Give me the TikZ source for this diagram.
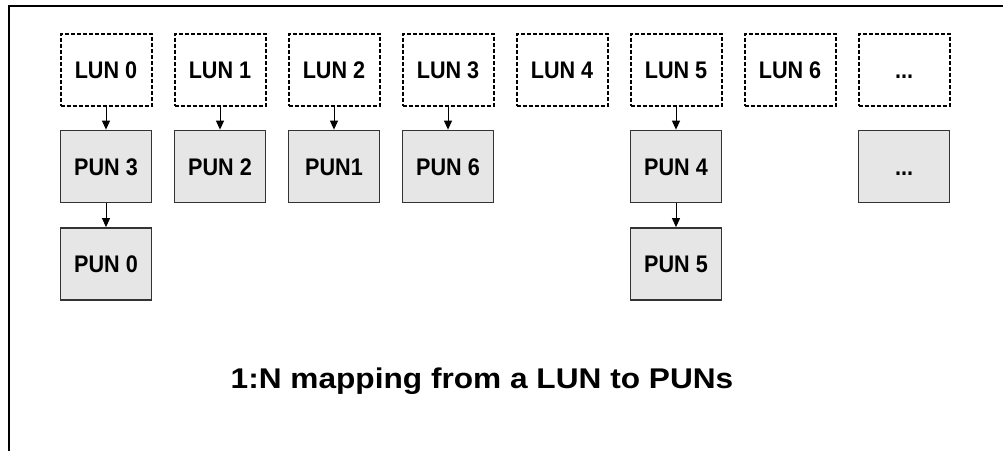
\documentclass[tikz,border=0pt]{standalone}
\usepackage{fontspec}
\setmainfont{Liberation Sans}
\usetikzlibrary{arrows.meta}
\definecolor{punfill}{HTML}{E6E6E6}
\definecolor{punedge}{HTML}{333333}
\newcommand{\boxtext}[1]{\scalebox{0.9}[1]{#1}}
\begin{document}
\begin{tikzpicture}[x=1pt,y=-1pt,
  unitbox/.style={minimum width=91pt, minimum height=72pt, inner sep=0pt,
    text height=17pt, text depth=0pt, font=\fontsize{24}{26}\selectfont\bfseries},
  lunbox/.style={unitbox, draw=black, line width=2pt,
    dash pattern=on 4pt off 2pt},
  punbox/.style={unitbox, draw=punedge, fill=punfill, line width=1.8pt},
  link/.style={line width=1pt, -{Triangle[length=9pt,width=8pt]}},
  frame/.style={line width=2.7pt}]
\useasboundingbox (0,0) rectangle (1003,451);
% open frame: left and top edges
\coordinate (fa) at (9,451);
\coordinate (fb) at (9,6);
\coordinate (fc) at (1003,6);
\draw[frame] (fa) -- (fb) -- (fc);
% logical units
\node[lunbox] (l0) at (106,69.5) {\boxtext{LUN 0}};
\node[lunbox] (l1) at (220,69.5) {\boxtext{LUN 1}};
\node[lunbox] (l2) at (334,69.5) {\boxtext{LUN 2}};
\node[lunbox] (l3) at (448,69.5) {\boxtext{LUN 3}};
\node[lunbox] (l4) at (562,69.5) {\boxtext{LUN 4}};
\node[lunbox] (l5) at (676,69.5) {\boxtext{LUN 5}};
\node[lunbox] (l6) at (790,69.5) {\boxtext{LUN 6}};
\node[lunbox] (l7) at (904,69.5) {\boxtext{...}};
% physical units
\node[punbox] (p3) at (106,166.5) {\boxtext{PUN 3}};
\node[punbox] (p2) at (220,166.5) {\boxtext{PUN 2}};
\node[punbox] (p1) at (334,166.5) {\boxtext{PUN1}};
\node[punbox] (p6) at (448,166.5) {\boxtext{PUN 6}};
\node[punbox] (p4) at (676,166.5) {\boxtext{PUN 4}};
\node[punbox] (p7) at (904,166.5) {\boxtext{...}};
\node[punbox] (p0) at (106,264) {\boxtext{PUN 0}};
\node[punbox] (p5) at (676,264) {\boxtext{PUN 5}};
% mappings
\draw[link] (l0) -- (p3);
\draw[link] (l1) -- (p2);
\draw[link] (l2) -- (p1);
\draw[link] (l3) -- (p6);
\draw[link] (l5) -- (p4);
\draw[link] (p3) -- (p0);
\draw[link] (p4) -- (p5);
% caption
\node[anchor=base, font=\fontsize{28.5}{31}\selectfont\bfseries] (title) at (482,388)
  {\scalebox{1.11}[1]{1:N mapping from a LUN to PUNs}};
\end{tikzpicture}
\end{document}
